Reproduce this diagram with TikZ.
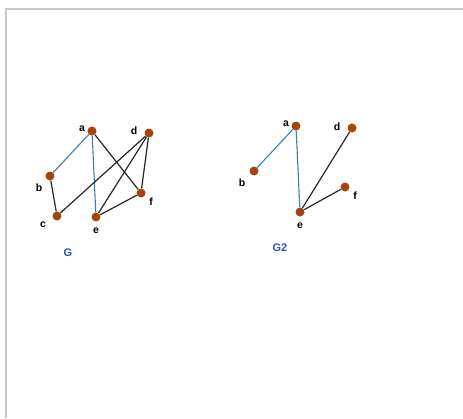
\documentclass[tikz,border=0pt]{standalone}
\usepackage{fontspec}
\setmainfont{Liberation Sans}
\definecolor{vertexbrown}{HTML}{A3450F}
\definecolor{edgeblue}{HTML}{3C7DB8}
\definecolor{titleblue}{HTML}{2A55B0}
\definecolor{framegray}{HTML}{C8C8C8}
\begin{document}
\begin{tikzpicture}[
  x=1pt, y=-1pt,
  vertex/.style={circle, fill=vertexbrown, inner sep=0pt, minimum size=9pt},
  lbl/.style={font=\fontsize{10.5}{12}\selectfont\bfseries, inner sep=0pt},
  title/.style={font=\fontsize{11}{13}\selectfont\bfseries, text=titleblue, inner sep=0pt},
  bedge/.style={edgeblue, line width=1.1pt},
  kedge/.style={black!85, line width=1.2pt}
]
\useasboundingbox (0,0) rectangle (463,418);
\draw[framegray, line width=1.5pt] (6,418) -- (6,9) -- (463,9);
% graph G
\node[vertex] (a) at (92,131) {};
\node[vertex] (b) at (50,176) {};
\node[vertex] (c) at (57,216) {};
\node[vertex] (d) at (149,133) {};
\node[vertex] (e) at (96,217) {};
\node[vertex] (f) at (141,193) {};
\node[lbl] at (82,129) {a};
\node[lbl] at (134,131) {d};
\node[lbl] at (39,188) {b};
\node[lbl] at (151,202) {f};
\node[lbl] at (43,225) {c};
\node[lbl] at (96,231) {e};
\node[title] (g) at (68,253) {G};
\draw[bedge] (a) -- (b);
\draw[bedge] (a) -- (e);
\draw[kedge] (a) -- (f);
\draw[kedge] (b) -- (c);
\draw[kedge] (d) -- (c);
\draw[kedge] (d) -- (e);
\draw[kedge] (d) -- (f);
\draw[kedge] (e) -- (f);
% graph G2
\node[vertex] (a2) at (296,126) {};
\node[vertex] (b2) at (254,171) {};
\node[vertex] (d2) at (352,128) {};
\node[vertex] (e2) at (300,212) {};
\node[vertex] (f2) at (345,187) {};
\node[lbl] at (286,124) {a};
\node[lbl] at (337,127) {d};
\node[lbl] at (242,183) {b};
\node[lbl] at (355,196) {f};
\node[lbl] at (300,226) {e};
\node[title] (g2) at (280,248) {G2};
\draw[bedge] (a2) -- (b2);
\draw[bedge] (a2) -- (e2);
\draw[kedge] (d2) -- (e2);
\draw[kedge] (e2) -- (f2);
\end{tikzpicture}
\end{document}
